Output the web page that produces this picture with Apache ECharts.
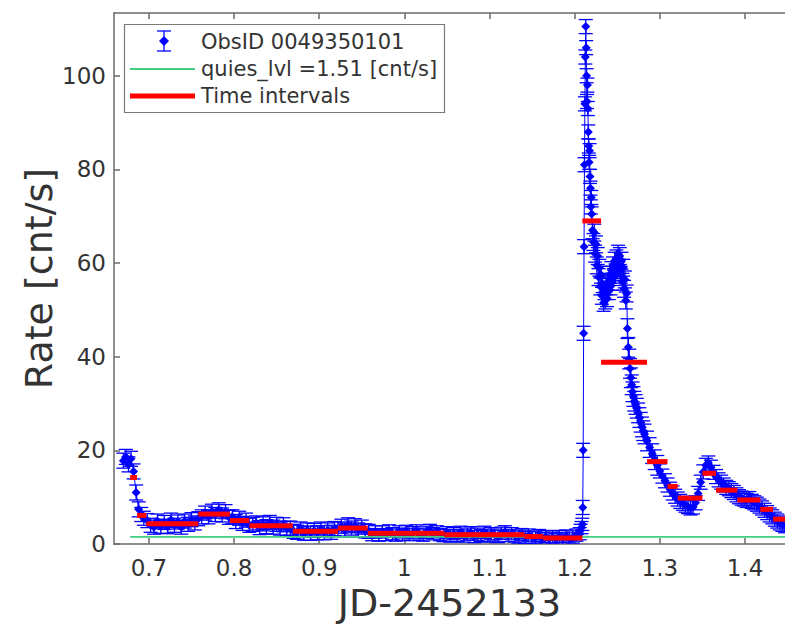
<!DOCTYPE html>
<html>
<head>
<meta charset="utf-8">
<script src="https://cdn.jsdelivr.net/npm/echarts@6/dist/echarts.min.js"></script>
<style>html,body{margin:0;padding:0;background:#fff}#chart{width:785px;height:627px}</style>
</head>
<body>
<div id="chart"></div>
<script>
// ---------- data ----------
var xTicks = [0.7, 0.8, 0.9, 1.0, 1.1, 1.2, 1.3, 1.4];
var yTicks = [0, 20, 40, 60, 80, 100];

var timesStart = [0.670, 0.673, 0.676, 0.679, 0.682, 0.685, 0.688, 0.691, 0.694];
var ratesStart = [17.8, 18.6, 17.0, 18.2, 15.5, 11.0, 7.4, 6.3, 5.5];

var timesQuiet = [
 0.698,0.702,0.706,0.710,0.714,0.718,0.722,0.726,0.730,0.734,0.738,0.742,0.746,0.750,0.754,0.758,
 0.762,0.766,0.770,0.774,0.778,0.782,0.786,0.790,0.794,0.798,0.802,0.806,0.810,0.814,0.818,0.822,
 0.826,0.830,0.834,0.838,0.842,0.846,0.850,0.854,0.858,0.862,0.866,0.870,0.874,0.878,0.882,0.886,
 0.890,0.894,0.898,0.902,0.906,0.910,0.914,0.918,0.922,0.926,0.930,0.934,0.938,0.942,0.946,0.950,
 0.954,0.958,0.962,0.966,0.970,0.974,0.978,0.982,0.986,0.990,0.994,0.998,1.002,1.006,1.010,1.014,
 1.018,1.022,1.026,1.030,1.034,1.038,1.042,1.046,1.050,1.054,1.058,1.062,1.066,1.070,1.074,1.078,
 1.082,1.086,1.090,1.094,1.098,1.102,1.106,1.110,1.114,1.118,1.122,1.126,1.130,1.134,1.138,1.142,
 1.146,1.150,1.154,1.158,1.162,1.166,1.170,1.174,1.178,1.182,1.186,1.190,1.194,1.198,1.202];
var ratesQuiet = [
 5.0,4.0,3.6,4.9,3.8,4.6,3.7,5.1,4.0,4.7,3.6,4.9,4.2,5.2,4.5,5.4,
 5.8,6.6,5.8,7.0,6.3,7.3,6.2,6.9,5.7,5.8,4.8,5.5,4.4,5.1,4.0,4.2,
 4.5,3.5,4.3,3.7,4.6,3.6,4.2,3.4,4.1,3.3,3.4,2.7,2.5,3.2,2.3,3.0,
 2.3,2.9,2.4,3.2,2.4,3.0,2.5,3.3,3.2,3.8,3.0,4.1,3.4,3.9,3.0,3.6,
 2.8,2.7,2.0,2.6,1.9,2.6,2.0,2.8,2.2,1.9,2.6,2.1,2.7,2.0,2.4,2.8,
 2.1,1.9,2.5,2.9,2.2,2.6,2.0,1.8,2.4,1.7,2.2,1.8,2.5,1.7,2.1,2.4,
 1.6,2.1,1.8,2.5,1.7,2.2,1.9,1.6,2.3,2.6,1.8,2.2,1.7,1.5,2.0,1.4,
 1.9,1.5,1.3,1.8,1.2,1.6,1.1,1.5,1.0,1.6,1.2,1.7,1.1,1.5,1.9];

var timesFlare = [
 1.206,1.207,1.208,1.209,1.2095,1.210,1.2105,1.211,1.2115,1.212,1.2125,1.213,1.2135,1.214,1.2145,
 1.215,1.2155,1.216,1.2165,1.217,1.2175,1.218,1.2185,1.219,1.2195,1.220,
 1.221,1.222,1.223,1.224,1.225,1.226,1.227,1.228,1.229,1.230,1.231,1.232,1.233,1.234,1.235,
 1.236,1.237,1.238,1.239,1.240,1.241,1.242,1.243,1.244,1.245,1.246,1.247,1.248,1.249,1.250,
 1.251,1.252,1.253,1.254,1.255,1.256,1.257,1.258,1.259,1.260,1.261,1.262,1.263,1.264,1.265,
 1.266,1.267,1.268,1.269,1.270,1.2715,1.273,1.2745,1.276,1.2775,1.279,1.2805,1.282];
var ratesFlare = [
 2.2,2.9,3.5,4.2,7.8,20.0,45.0,63.5,81.0,94.0,104.0,110.5,106.0,100.0,94.5,
 98.0,93.0,88.0,85.0,81.5,84.0,78.5,76.0,72.0,74.0,70.5,
 67.0,64.5,66.5,62.0,64.0,59.5,61.5,57.0,59.0,55.0,57.5,53.0,55.5,51.5,54.0,
 52.0,55.0,52.5,56.0,54.0,57.5,55.0,58.5,56.0,59.5,57.0,60.5,58.0,61.0,58.5,
 62.0,59.0,61.5,57.5,60.5,56.0,59.0,54.5,56.5,52.0,53.5,46.0,42.0,39.5,37.5,
 35.5,34.0,32.5,31.5,30.5,29.8,29.0,28.0,27.0,26.0,25.0,24.2,23.5];

var timesDecay = [
 1.285,1.288,1.291,1.294,1.297,1.300,1.303,1.306,1.309,1.312,1.315,1.318,1.321,1.324,1.327,1.330,
 1.333,1.336,1.339,1.342,1.345,1.348,1.351,1.354,1.357,1.360,1.363,1.366,1.369,1.372,1.375,1.378,
 1.381,1.384,1.387,1.390,1.393,1.396,1.399,1.402,1.405,1.408,1.411,1.414,1.417,1.420,1.423,1.426,
 1.429,1.432,1.435,1.438,1.441,1.444,1.447];
var ratesDecay = [
 22.0,20.6,19.3,18.0,16.8,15.6,14.5,13.5,12.6,11.7,10.9,10.2,9.6,9.1,8.7,8.3,
 8.0,7.7,7.9,8.8,10.8,13.2,15.4,16.8,17.3,16.4,15.3,14.4,13.7,13.2,12.6,12.1,
 11.8,11.4,11.0,10.5,10.1,9.8,9.6,9.3,9.7,9.1,8.8,8.5,8.1,7.7,7.2,6.7,
 6.2,5.8,5.3,4.9,4.5,4.2,3.9];

// error bar half-lengths, by time range (error applies while t < errBreaks[i])
var errBreaks = [0.690, 0.960, 1.2095, 1.221, 1.262, 1.300, 1.500];
var errValues = [1.6, 1.5, 1.3, 1.5, 1.8, 2.1, 1.5];

// quiescent level
var quiesLevel = 1.51;
var quiesRange = [0.678, 1.447];

// time intervals (red)
var intervalEdges = [0.678,0.686,0.697,0.758,0.795,0.818,0.869,0.922,0.957,1.047,1.141,1.163,1.209,1.231,1.285,1.309,1.321,1.350,1.366,1.391,1.418,1.433,1.447];
var intervalRates = [14.2,6.1,4.3,6.4,5.0,3.9,2.7,3.4,2.3,2.0,1.6,1.3,69.0,38.8,17.6,12.3,9.8,15.1,11.5,9.4,7.4,5.3];

// ---------- build ----------
var FONT = 'DejaVu Sans';
var BLUE = '#0000ff', RED = '#ff0000', GREEN = '#3fcf80', AX = '#6a6a6a', TXT = '#333333';
var times = timesStart.concat(timesQuiet, timesFlare, timesDecay);
var rates = ratesStart.concat(ratesQuiet, ratesFlare, ratesDecay);
function errFor(t){ for (var i=0;i<errBreaks.length;i++){ if (t < errBreaks[i]) return errValues[i]; } return errValues[errValues.length-1]; }
var ebData = times.map(function(t,i){ return [t, rates[i], errFor(t)]; });
var lineData = times.map(function(t,i){ return [t, rates[i]]; });
var ivData = intervalRates.map(function(r,i){ return [intervalEdges[i], intervalEdges[i+1], r]; });

var chart = echarts.init(document.getElementById('chart'), null, {renderer:'svg'});
var xMin = 0.659, xMax = 1.447, yMin = 0, yMax = 113.4;

function xAxisBase(pos, show){
  return {
    type:'value', min:xMin, max:xMax, position:pos, gridIndex:0,
    axisLine:{show:true, onZero:false, lineStyle:{color:AX, width:1.5}},
    axisTick:{show:true, inside:true, length:6, customValues:xTicks, lineStyle:{color:AX, width:1.5}},
    axisLabel:{show:show, customValues:xTicks, margin:12, fontFamily:FONT, fontSize:23, color:TXT,
      formatter:function(v){ return String(Math.round(v*10)/10); }},
    splitLine:{show:false}
  };
}
var xa0 = xAxisBase('bottom', true);
xa0.name = 'JD-2452133'; xa0.nameLocation = 'middle'; xa0.nameGap = 40;
xa0.nameTextStyle = {fontFamily:FONT, fontSize:38, color:TXT};
var xa1 = xAxisBase('top', false);

var option = {
  animation:false,
  backgroundColor:'#ffffff',
  grid:{left:114, right:0, top:13, bottom:81, containLabel:false},
  xAxis:[xa0, xa1],
  yAxis:[{
    type:'value', min:yMin, max:yMax, position:'left',
    axisLine:{show:true, onZero:false, lineStyle:{color:AX, width:1.5}},
    axisTick:{show:true, inside:true, length:6, customValues:yTicks, lineStyle:{color:AX, width:1.5}},
    axisLabel:{customValues:yTicks, margin:8, fontFamily:FONT, fontSize:23, color:TXT},
    splitLine:{show:false},
    name:'Rate [cnt/s]', nameLocation:'middle', nameGap:56, nameMoveOverlap:false,
    nameTextStyle:{fontFamily:FONT, fontSize:38, color:TXT}
  }],
  series:[
    {type:'line', data:lineData, showSymbol:false, symbol:'none', clip:true, z:2,
     lineStyle:{color:BLUE, width:1}, silent:true},
    {type:'custom', data:ebData, encode:{x:0, y:1}, clip:true, z:3, silent:true,
     renderItem:function(params, api){
       var t = api.value(0), r = api.value(1), e = api.value(2);
       var c = api.coord([t, r]), hi = api.coord([t, r+e]), lo = api.coord([t, r-e]);
       var w = 7, d = 4.5;
       var st = {stroke:BLUE, lineWidth:1.3};
       return {type:'group', children:[
         {type:'line', shape:{x1:c[0], y1:hi[1], x2:c[0], y2:lo[1]}, style:st},
         {type:'line', shape:{x1:c[0]-w, y1:hi[1], x2:c[0]+w, y2:hi[1]}, style:st},
         {type:'line', shape:{x1:c[0]-w, y1:lo[1], x2:c[0]+w, y2:lo[1]}, style:st},
         {type:'polygon', shape:{points:[[c[0],c[1]-d],[c[0]+d,c[1]],[c[0],c[1]+d],[c[0]-d,c[1]]]}, style:{fill:BLUE}}
       ]};
     }},
    {type:'line', data:[[quiesRange[0], quiesLevel],[quiesRange[1], quiesLevel]], showSymbol:false, symbol:'none', z:4,
     lineStyle:{color:GREEN, width:1.8}, silent:true},
    {type:'custom', data:ivData, encode:{x:[0,1], y:2}, clip:true, z:5, silent:true,
     renderItem:function(params, api){
       var a = api.coord([api.value(0), api.value(2)]), b = api.coord([api.value(1), api.value(2)]);
       return {type:'line', shape:{x1:a[0], y1:a[1], x2:b[0], y2:b[1]}, style:{stroke:RED, lineWidth:5}};
     }}
  ],
  graphic:[
    {type:'rect', z:100, shape:{x:124.5, y:24.5, width:320, height:88}, style:{fill:'#ffffff', stroke:'#7a7a7a', lineWidth:1.2}},
    {type:'line', z:101, shape:{x1:164, y1:31, x2:164, y2:51}, style:{stroke:BLUE, lineWidth:1.3}},
    {type:'line', z:101, shape:{x1:157, y1:31, x2:171, y2:31}, style:{stroke:BLUE, lineWidth:1.3}},
    {type:'line', z:101, shape:{x1:157, y1:51, x2:171, y2:51}, style:{stroke:BLUE, lineWidth:1.3}},
    {type:'polygon', z:101, shape:{points:[[164,36],[169,41],[164,46],[159,41]]}, style:{fill:BLUE}},
    {type:'line', z:101, shape:{x1:130, y1:69, x2:195, y2:69}, style:{stroke:GREEN, lineWidth:1.8}},
    {type:'line', z:101, shape:{x1:130, y1:96, x2:195, y2:96}, style:{stroke:RED, lineWidth:5}},
    {type:'text', z:101, x:201, y:42, style:{text:'ObsID 0049350101', fontFamily:FONT, fontSize:21, fill:TXT, verticalAlign:'middle'}},
    {type:'text', z:101, x:201, y:69, style:{text:'quies_lvl =1.51 [cnt/s]', fontFamily:FONT, fontSize:21, fill:TXT, verticalAlign:'middle'}},
    {type:'text', z:101, x:201, y:96, style:{text:'Time intervals', fontFamily:FONT, fontSize:21, fill:TXT, verticalAlign:'middle'}}
  ]
};
chart.setOption(option);
</script>
</body>
</html>
